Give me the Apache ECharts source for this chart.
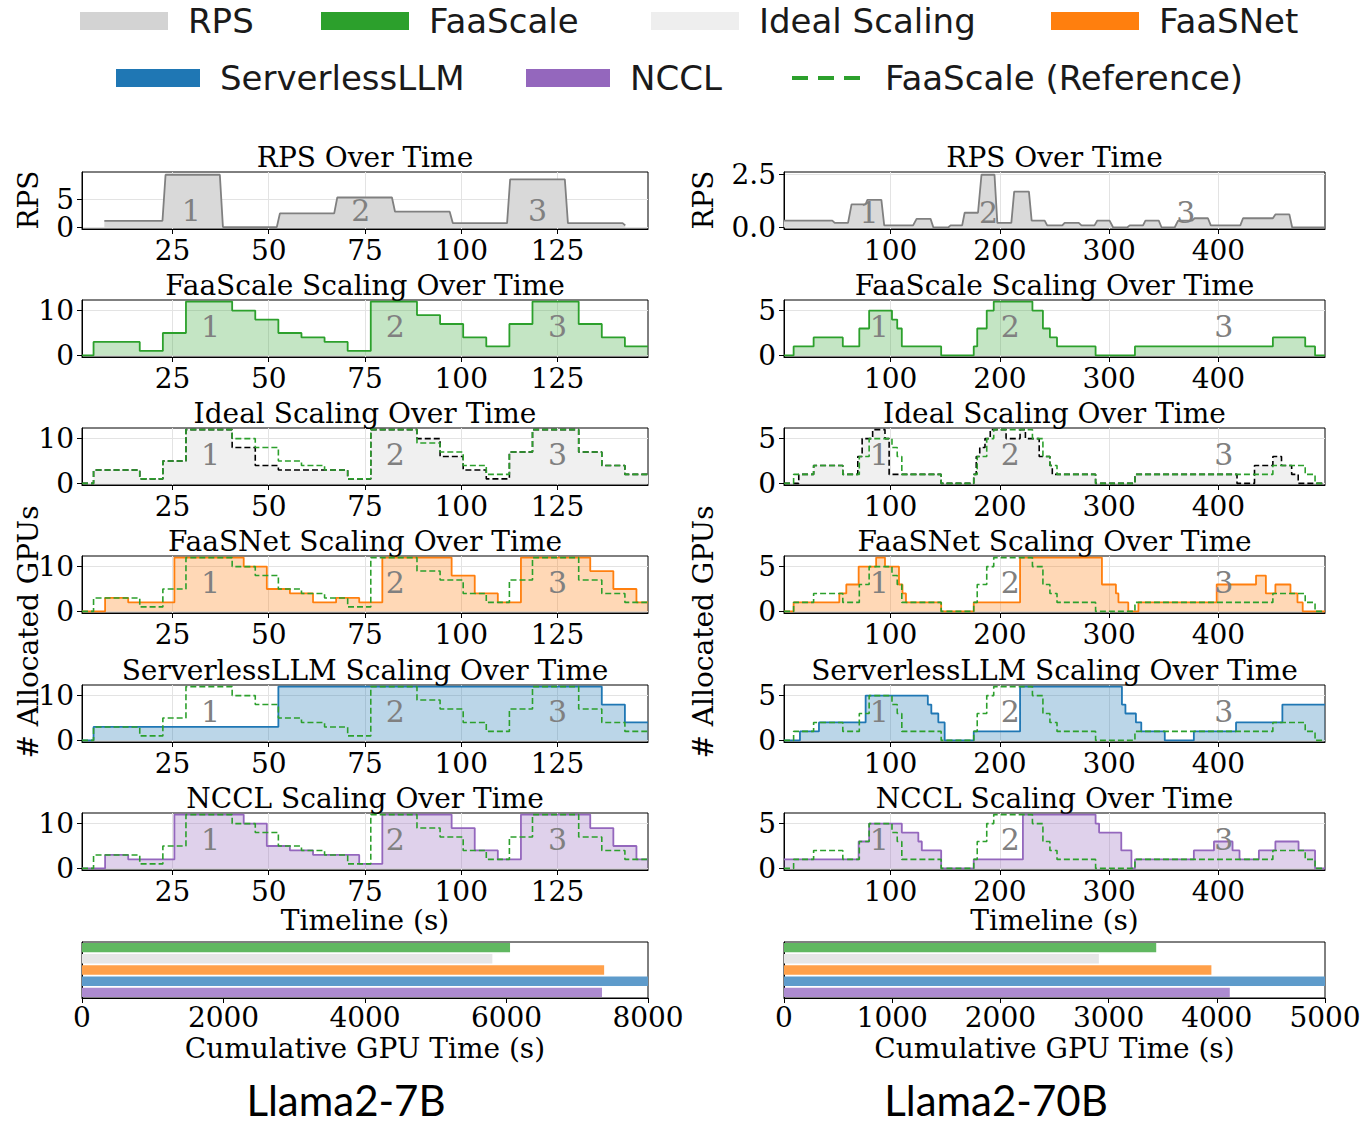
<!DOCTYPE html>
<html>
<head>
<meta charset="utf-8">
<script src="https://cdn.jsdelivr.net/npm/echarts@6/dist/echarts.min.js"></script>
<style>
html, body { margin: 0; padding: 0; background: #fff; }
#chart { width: 1361px; height: 1124px; }
</style>
</head>
<body>
<div id="chart"></div>
<script>
// ---- Llama2-7B (left column) ----
const rps7B = [[7.3,1.2],[22.4,1.2],[23.2,9.3],[37.3,9.3],[38.1,0.1],[52.1,0.1],[52.9,2.5],[67.0,2.5],[67.8,5.3],[82.0,5.3],[82.8,2.8],[97.0,2.8],[97.8,0.8],[111.9,0.8],[112.7,8.5],[126.9,8.5],[127.7,0.8],[141.9,0.8],[142.6,0.4]];
const faascale7B = [[1.5,0],[4.5,3],[16.5,1],[22.5,5],[28.5,12],[40.5,10],[46.5,8],[52.5,5],[58.5,4],[64.5,3],[70.5,1],[76.5,12],[88.5,9],[94.5,7],[100.5,4],[106.5,2],[112.5,7],[118.5,12],[130.5,7],[136.5,4],[142.5,2],[148.5,2]];
const ideal7B = [[1.5,0],[4.5,3],[16.5,1],[22.5,5],[28.5,12],[40.5,8],[46.5,4],[52.5,3],[70.5,1],[76.5,12],[88.5,10],[94.5,6],[100.5,3],[106.5,1],[112.5,7],[118.5,12],[130.5,7],[136.5,4],[142.5,2],[148.5,2]];
const faasnet7B = [[1.5,0],[7.5,3],[13.5,2],[25.5,12],[43.5,10],[49.5,5],[55.5,4],[61.5,2],[67.5,3],[73.5,2],[79.5,12],[97.5,8],[103.5,4],[109.5,2],[115.5,12],[133.5,9],[139.5,5],[145.5,2],[148.5,2]];
const sllm7B = [[1.5,0],[4.5,3],[52.5,12],[136.5,8],[142.5,4],[148.5,4]];
const nccl7B = [[1.5,0],[7.5,3],[13.5,2],[25.5,12],[43.5,10],[49.5,5],[55.5,4],[61.5,3],[73.5,1],[79.5,12],[97.5,9],[103.5,4],[109.5,2],[115.5,12],[133.5,9],[139.5,5],[145.5,2],[148.5,2]];
const phaseRps7B = [[29.9,3.0,'1'],[73.9,3.0,'2'],[119.8,3.0,'3']];
const phaseGpu7B = [[34.9,6.5,'1'],[82.9,6.5,'2'],[125.0,6.5,'3']];
const gpuTime7B = [6050, 5800, 7380, 8000, 7350];

// ---- Llama2-70B (right column) ----
const rps70B = [[2.5,0.33],[46.7,0.33],[48.9,0.22],[61.1,0.22],[64.3,1.1],[77.2,1.1],[78.8,1.31],[91.6,1.31],[94.2,0.1],[120.6,0.1],[123.8,0.41],[136.6,0.41],[139.2,0],[152.7,0],[154.9,0.1],[165.5,0.1],[167.8,0.7],[180,0.7],[183.2,2.5],[195.1,2.5],[197.7,0.22],[210.5,0.22],[213.1,1.7],[226.6,1.7],[229.1,0.33],[241,0.33],[243.3,0.1],[257.1,0.1],[259.3,0.22],[272.2,0.22],[274.7,0.1],[286.6,0.1],[289.2,0.33],[300.4,0.33],[303.7,0],[316.5,0],[318.8,0.1],[331,0.1],[333.2,0.33],[345.4,0.33],[348,0],[359.9,0],[363.1,0.33],[375.9,0.33],[378.2,0.44],[390.4,0.44],[393,0.1],[420,0.1],[422.5,0.44],[449.8,0.44],[452.1,0.62],[464.9,0.62],[467.5,0],[497.5,0]];
const faascale70B = [[2.5,0],[11.3,1],[29.6,2],[56.3,1],[71.4,3],[80.4,5],[101.3,4],[106.1,3],[110.3,1],[146.3,0],[176.1,1],[179.3,3],[188,5],[194.4,6],[229.8,5],[239.4,3],[245.8,2],[252.3,1],[287.6,0],[323.6,1],[449.8,2],[479.4,1],[488.4,0],[497.5,0]];
const ideal70B = [[2.5,0],[16,1],[29.6,2],[56.3,1],[70,3],[74,5],[83.6,6],[94.9,5],[98.7,1],[146.3,0],[176.1,1],[178.4,3],[181.6,4],[186.4,5],[191.2,6],[205.7,5],[218.5,6],[223.4,5],[236,3],[245.8,2],[248,1],[287.6,0],[323.6,1],[417,0],[433,2],[449.8,3],[457.7,2],[467,1],[473,0],[497.5,0]];
const faasnet70B = [[2.5,0],[11.3,1],[53.1,2],[59.5,3],[70.8,5],[86.8,6],[94.9,5],[107.7,3],[110.9,2],[114.1,1],[146.3,0],[176.1,1],[218.5,6],[293.4,3],[306.2,2],[308.5,1],[317.5,0],[326.8,1],[398.4,3],[434.4,4],[443.4,2],[452.1,3],[465.9,2],[472.3,1],[477.1,0],[497.5,0]];
const sllm70B = [[2.5,0],[17.1,1],[34.5,2],[77.2,5],[134.1,4],[137.3,3],[143.7,2],[149.5,0],[176.1,1],[218.5,6],[311.7,4],[314.9,3],[324.5,2],[329.4,1],[350.9,0],[377.5,1],[416.1,2],[458.5,4],[497.5,4]];
const nccl70B = [[2.5,1],[70.8,3],[80.4,5],[110.3,4],[125.4,3],[128.6,2],[146.3,0],[176.1,1],[221.1,6],[287.6,5],[290.8,4],[311.1,2],[320.4,0],[323.6,1],[377.5,2],[395.9,3],[412.9,2],[419.3,1],[437,2],[452.1,3],[473.3,2],[488.4,0],[497.5,0]];
const phaseRps70B = [[80.4,0.73,'1'],[189.6,0.73,'2'],[370.2,0.73,'3']];
const phaseGpu70B = [[89.7,3.2,'1'],[209.5,3.2,'2'],[404.8,3.2,'3']];
const gpuTime70B = [3440, 2910, 3950, 5000, 4120];

// ---- ticks / categories ----
const xTicks7B = [25, 50, 75, 100, 125];
const xTicks70B = [100, 200, 300, 400];
const rpsTicks7B = [0, 5];
const rpsTicks70B = [0, 2.5];
const gpuTicks7B = [0, 10];
const gpuTicks70B = [0, 5];
const barCats = ['FaaScale', 'Ideal Scaling', 'FaaSNet', 'ServerlessLLM', 'NCCL'];
const rowTitles = ['RPS Over Time', 'FaaScale Scaling Over Time', 'Ideal Scaling Over Time',
  'FaaSNet Scaling Over Time', 'ServerlessLLM Scaling Over Time', 'NCCL Scaling Over Time'];

const SERIF = 'DejaVu Serif';
const SANS = 'DejaVu Sans';
const green = '#2ca02c', orange = '#ff7f0e', blue = '#1f77b4', purple = '#9467bd';
const barColors = ['#61b861', '#e6e6e6', '#ffa04a', '#5e9bcb', '#ad8bd0'];

const cols = [
  { left: 82, width: 566, xMin: 1.5, xMax: 148.5, xTicks: xTicks7B,
    rps: rps7B, rpsMin: -0.24, rpsMax: 9.78, rpsTicks: rpsTicks7B, rpsFmt: v => String(v),
    gMin: -0.36, gMax: 12.36, gTicks: gpuTicks7B,
    faascale: faascale7B, ideal: ideal7B, faasnet: faasnet7B, sllm: sllm7B, nccl: nccl7B,
    phaseRps: phaseRps7B, phaseGpu: phaseGpu7B, gpuTime: gpuTime7B, barMax: 8000, barInt: 2000,
    title: 'Llama2-7B', titleX: 346 },
  { left: 784, width: 541, xMin: 2.5, xMax: 497.5, xTicks: xTicks70B,
    rps: rps70B, rpsMin: -0.07, rpsMax: 2.63, rpsTicks: rpsTicks70B, rpsFmt: v => v.toFixed(1),
    gMin: -0.18, gMax: 6.18, gTicks: gpuTicks70B,
    faascale: faascale70B, ideal: ideal70B, faasnet: faasnet70B, sllm: sllm70B, nccl: nccl70B,
    phaseRps: phaseRps70B, phaseGpu: phaseGpu70B, gpuTime: gpuTime70B, barMax: 5000, barInt: 1000,
    title: 'Llama2-70B', titleX: 996 }
];
const rowTops = [172, 300, 428, 556, 685, 813];
const rowH = 57;
const barTop = 942, barH = 56;

const tickFont = { fontSize: 28, lineHeight: 26, fontFamily: SERIF, color: '#000' };

const option = {
  animation: false,
  backgroundColor: '#fff',
  grid: [], xAxis: [], yAxis: [], series: [], graphic: [], legend: []
};

function stepLine(name, data, idx, color, fill, dashed) {
  const s = {
    name: name, type: 'line', step: 'end', xAxisIndex: idx, yAxisIndex: idx,
    data: data, showSymbol: false, symbol: 'none', silent: true,
    lineStyle: { color: color, width: dashed ? 1.6 : 1.8, type: dashed ? [6, 3] : 'solid' },
    itemStyle: { color: color }
  };
  if (fill) s.areaStyle = { color: fill, opacity: 1 };
  return s;
}

function phaseLabels(data, idx) {
  return {
    name: 'phase', type: 'scatter', xAxisIndex: idx, yAxisIndex: idx, silent: true,
    symbolSize: 1, itemStyle: { color: 'rgba(0,0,0,0)' }, data: data, z: 5,
    label: { show: true, position: 'inside', formatter: p => p.value[2],
      fontSize: 30, fontFamily: SERIF, color: '#808080', opacity: 1 }
  };
}

cols.forEach((col, c) => {
  const cx = col.left + col.width / 2;
  rowTitles.forEach((t, r) => {
    const idx = option.grid.length;
    option.grid.push({ left: col.left, top: rowTops[r], width: col.width, height: rowH,
      show: true, borderColor: '#000', borderWidth: 1, outerBoundsMode: 'none' });
    option.xAxis.push({
      type: 'value', gridIndex: idx, min: col.xMin, max: col.xMax,
      axisLine: { show: true, onZero: false, lineStyle: { color: '#000', width: 1 } },
      axisTick: { show: true, customValues: col.xTicks, length: 5, lineStyle: { color: '#000' } },
      axisLabel: Object.assign({ customValues: col.xTicks, margin: 8 }, tickFont),
      splitLine: { show: true, lineStyle: { color: '#e3e3e3', width: 1 } }
    });
    const isRps = r === 0;
    const yt = isRps ? col.rpsTicks : col.gTicks;
    option.yAxis.push({
      type: 'value', gridIndex: idx,
      min: isRps ? col.rpsMin : col.gMin, max: isRps ? col.rpsMax : col.gMax,
      axisLine: { show: true, onZero: false, lineStyle: { color: '#000', width: 1 } },
      axisTick: { show: true, customValues: yt, length: 5, lineStyle: { color: '#000' } },
      axisLabel: Object.assign({ customValues: yt, margin: 8,
        formatter: isRps ? col.rpsFmt : (v => String(v)) }, tickFont),
      splitLine: { show: true, lineStyle: { color: '#e3e3e3', width: 1 } }
    });

    if (r === 0) {
      option.series.push({
        name: 'RPS', type: 'line', xAxisIndex: idx, yAxisIndex: idx, data: col.rps,
        showSymbol: false, symbol: 'none', silent: true,
        lineStyle: { color: '#808080', width: 1.8 }, itemStyle: { color: '#808080' },
        areaStyle: { color: '#d9d9d9', opacity: 1 }
      });
    } else if (r === 1) {
      option.series.push(stepLine('FaaScale', col.faascale, idx, green, 'rgba(44,160,44,0.28)', false));
    } else if (r === 2) {
      option.series.push(stepLine('Ideal Scaling', col.ideal, idx, '#000', '#f0f0f0', true));
      option.series.push(stepLine('FaaScale (Reference)', col.faascale, idx, green, null, true));
    } else if (r === 3) {
      option.series.push(stepLine('FaaSNet', col.faasnet, idx, orange, 'rgba(255,127,14,0.3)', false));
      option.series.push(stepLine('FaaScale (Reference)', col.faascale, idx, green, null, true));
    } else if (r === 4) {
      option.series.push(stepLine('ServerlessLLM', col.sllm, idx, blue, 'rgba(31,119,180,0.3)', false));
      option.series.push(stepLine('FaaScale (Reference)', col.faascale, idx, green, null, true));
    } else {
      option.series.push(stepLine('NCCL', col.nccl, idx, purple, 'rgba(148,103,189,0.3)', false));
      option.series.push(stepLine('FaaScale (Reference)', col.faascale, idx, green, null, true));
    }
    option.series.push(phaseLabels(isRps ? col.phaseRps : col.phaseGpu, idx));

    option.graphic.push({ type: 'text', x: cx, y: rowTops[r] - 15, silent: true,
      style: { text: t, fontSize: 28, fontFamily: SERIF, fill: '#000', align: 'center', verticalAlign: 'middle' } });
  });

  // cumulative GPU time bars
  const bi = option.grid.length;
  option.grid.push({ left: col.left, top: barTop, width: col.width, height: barH,
    show: true, borderColor: '#000', borderWidth: 1, outerBoundsMode: 'none' });
  option.xAxis.push({
    type: 'value', gridIndex: bi, min: 0, max: col.barMax, interval: col.barInt,
    axisLine: { show: true, onZero: false, lineStyle: { color: '#000' } },
    axisTick: { show: true, length: 5, lineStyle: { color: '#000' } },
    axisLabel: Object.assign({ margin: 6, showMaxLabel: true, showMinLabel: true,
      formatter: v => String(v) }, tickFont),
    splitLine: { show: false }
  });
  option.yAxis.push({
    type: 'category', gridIndex: bi, data: barCats, inverse: true,
    axisLine: { show: true, lineStyle: { color: '#000' } },
    axisTick: { show: false }, axisLabel: { show: false }, splitLine: { show: false }
  });
  option.series.push({
    name: 'Cumulative GPU Time', type: 'bar', xAxisIndex: bi, yAxisIndex: bi, silent: true,
    barWidth: '84%',
    data: col.gpuTime.map((v, i) => ({ value: v, itemStyle: { color: barColors[i] } }))
  });

  option.graphic.push({ type: 'text', x: cx, y: 920, silent: true,
    style: { text: 'Timeline (s)', fontSize: 28, fontFamily: SERIF, fill: '#000', align: 'center', verticalAlign: 'middle' } });
  option.graphic.push({ type: 'text', x: cx, y: 1048, silent: true,
    style: { text: 'Cumulative GPU Time (s)', fontSize: 28, fontFamily: SERIF, fill: '#000', align: 'center', verticalAlign: 'middle' } });
  option.graphic.push({ type: 'text', x: col.titleX, y: 1100, silent: true,
    style: { text: col.title, fontSize: 42, fontFamily: 'Lato', fill: '#000', align: 'center', verticalAlign: 'middle' } });
  const ylx = c === 0 ? 28 : 703;
  option.graphic.push({ type: 'text', x: ylx, y: 200, rotation: Math.PI / 2, silent: true,
    style: { text: 'RPS', fontSize: 28, fontFamily: SERIF, fill: '#000', align: 'center', verticalAlign: 'middle' } });
  option.graphic.push({ type: 'text', x: ylx, y: 632, rotation: Math.PI / 2, silent: true,
    style: { text: '# Allocated GPUs', fontSize: 28, fontFamily: SERIF, fill: '#000', align: 'center', verticalAlign: 'middle' } });
});

// legend: one component per entry so each sits where the reference puts it
const legendItems = [
  { name: 'RPS', left: 80, top: 4, icon: 'rect', color: '#d3d3d3', w: 88 },
  { name: 'FaaScale', left: 321, top: 4, icon: 'rect', color: green, w: 88 },
  { name: 'Ideal Scaling', left: 651, top: 4, icon: 'rect', color: '#eeeeee', w: 88 },
  { name: 'FaaSNet', left: 1051, top: 4, icon: 'rect', color: orange, w: 88 },
  { name: 'ServerlessLLM', left: 116, top: 61, icon: 'rect', color: blue, w: 84 },
  { name: 'NCCL', left: 526, top: 61, icon: 'rect', color: purple, w: 84 },
  { name: 'FaaScale (Reference)', left: 790, top: 61, icon: null, color: green, w: 68 }
];
legendItems.forEach(it => {
  const d = { name: it.name };
  if (it.icon) {
    d.icon = it.icon;
    d.itemStyle = { color: it.color, borderWidth: 0 };
  } else {
    d.itemStyle = { opacity: 0 };
    d.lineStyle = { color: it.color, width: 4, type: [16, 10] };
  }
  option.legend.push({
    left: it.left, top: it.top, padding: 0, itemWidth: it.w, itemHeight: 18,
    data: [d],
    textStyle: { fontSize: 34, fontFamily: SANS, color: '#1a1a1a', padding: [0, 0, 0, it.icon ? 15 : 20] }
  });
});

const chart = echarts.init(document.getElementById('chart'), null, { renderer: 'svg' });
chart.setOption(option);
</script>
</body>
</html>
